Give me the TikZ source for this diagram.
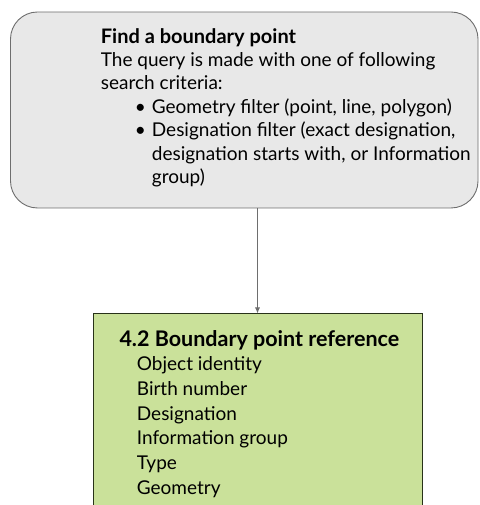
\documentclass[tikz,border=0pt]{standalone}
\usepackage{fontspec}
\setmainfont{Lato}
\usetikzlibrary{arrows.meta,positioning}
\definecolor{querygray}{RGB}{232,232,232}
\definecolor{queryline}{RGB}{110,110,110}
\definecolor{refgreen}{RGB}{202,225,154}
\definecolor{refline}{RGB}{40,50,25}
\tikzset{
  querybox/.style={draw=queryline, fill=querygray, rounded corners=27pt,
    minimum width=467.5pt, minimum height=196pt, line width=0.9pt},
  refbox/.style={draw=refline, fill=refgreen,
    minimum width=329pt, minimum height=216pt, line width=1pt},
  querytext/.style={anchor=north west, align=left, inner sep=0pt,
    font=\fontsize{19}{23.4}\selectfont},
  reftext/.style={anchor=north west, align=left, inner sep=0pt,
    font=\fontsize{19}{24.7}\selectfont},
}
\newcommand{\itembullet}{\hspace*{51pt}\llap{\textbullet\hspace{6pt}}}
\begin{document}
\begin{tikzpicture}[x=1pt,y=1pt]
    \useasboundingbox (0,0) rectangle (479,505);

    \node[querybox] (query) at (244.25,395) {};
    \node[refbox] (ref) at (257.5,83) {};

    \node[querytext] (querylines) at (100.7,477) {%
        \rule{0pt}{15pt}{\fontsize{20}{23.4}\selectfont\bfseries Find a boundary point}\\
        The query is made with one of following\\
        search criteria:\\
        \itembullet Geometry filter (point, line, polygon)\\
        \itembullet Designation filter (exact designation,\\
        \hspace*{51pt}designation starts with, or Information\\
        \hspace*{51pt}group)};

    \node[reftext] (reflines) at (119.3,175) {%
        \rule{0pt}{16pt}{\fontsize{21.5}{24.7}\selectfont\bfseries 4.2 Boundary point reference}\\
        \hspace*{17.4pt}Object identity\\
        \hspace*{17.4pt}Birth number\\
        \hspace*{17.4pt}Designation\\
        \hspace*{17.4pt}Information group\\
        \hspace*{17.4pt}Type\\
        \hspace*{17.4pt}Geometry};

    \draw[draw=queryline, line width=0.9pt, -{Latex[length=6pt,width=5pt]}]
        (query.south -| ref.north) -- (ref.north);
\end{tikzpicture}
\end{document}
